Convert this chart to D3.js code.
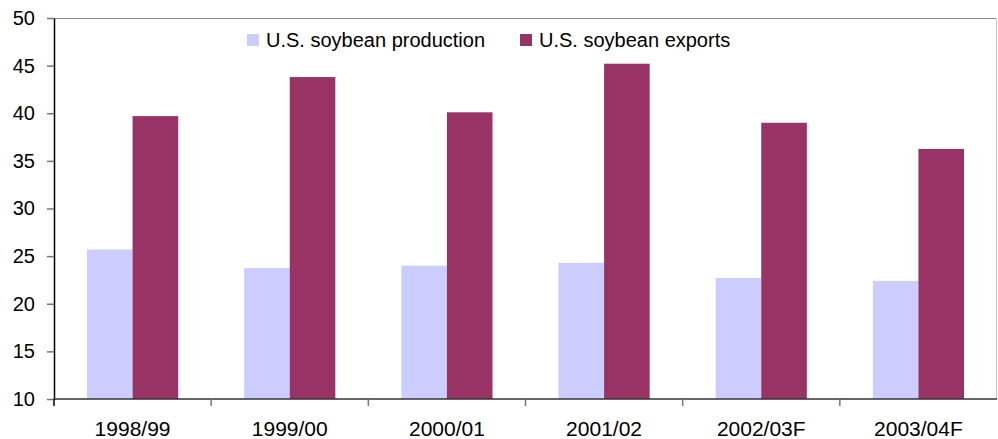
<!DOCTYPE html>
<html>
<head>
<meta charset="utf-8">
<script src="https://cdn.jsdelivr.net/npm/d3@7"></script>
<style>
  body { margin: 0; background: #fff; }
  text { font-family: "Liberation Sans", Arial, sans-serif; fill: #000; }
</style>
</head>
<body>
<svg id="chart" width="998" height="439"></svg>
<script>
// soybean production vs exports, by marketing year
var years = ["1998/99", "1999/00", "2000/01", "2001/02", "2002/03F", "2003/04F"];
var production = [25.7, 23.75, 24.0, 24.3, 22.7, 22.4];
var exports = [39.7, 43.8, 40.1, 45.2, 39.0, 36.25];
var seriesNames = ["U.S. soybean production", "U.S. soybean exports"];
var yTicks = [10, 15, 20, 25, 30, 35, 40, 45, 50];

var svg = d3.select("#chart");
var margin = {top: 18, right: 1, bottom: 40, left: 54},
    width = +svg.attr("width") - margin.left - margin.right,
    height = +svg.attr("height") - margin.top - margin.bottom,
    g = svg.append("g").attr("transform", "translate(" + margin.left + "," + margin.top + ")");

var colors = ["#ccccff", "#993366"];

var x = d3.scaleBand()
    .domain(years)
    .range([0, width])
    .paddingInner(0)
    .paddingOuter(0);

var x1 = d3.scaleBand()
    .domain([0, 1])
    .range([33, x.bandwidth() - 33]);

var y = d3.scaleLinear()
    .domain([10, 50])
    .range([height, 0]);

// plot border (top and right)
g.append("line").attr("x1", 0).attr("x2", width).attr("y1", 0.5).attr("y2", 0.5)
    .attr("stroke", "#8c8c8c");
g.append("line").attr("x1", width - 0.5).attr("x2", width - 0.5).attr("y1", 0).attr("y2", height)
    .attr("stroke", "#c8c8c8");

var data = years.map(function(d, i) { return {year: d, values: [production[i], exports[i]]}; });

var groups = g.selectAll(".grp")
  .data(data)
  .enter().append("g")
    .attr("transform", function(d) { return "translate(" + x(d.year) + ",0)"; });

groups.selectAll("rect")
  .data(function(d) { return d.values; })
  .enter().append("rect")
    .attr("x", function(d, i) { return x1(i); })
    .attr("width", x1.bandwidth())
    .attr("y", function(d) { return y(d); })
    .attr("height", function(d) { return height - y(d); })
    .attr("fill", function(d, i) { return colors[i]; });

// y axis
var yAxis = g.append("g")
    .call(d3.axisLeft(y).tickValues(yTicks).tickSize(7).tickPadding(12).tickSizeOuter(0));
yAxis.select(".domain").attr("stroke", "#000").attr("stroke-width", 1.5);
yAxis.selectAll(".tick line").attr("stroke", "#777").attr("stroke-width", 1.5);
yAxis.selectAll(".tick text").attr("font-size", 20).attr("fill", "#000")
    .attr("font-family", "Liberation Sans, Arial, sans-serif");

// x axis: ticks on category boundaries
var xAxis = g.append("g")
    .attr("transform", "translate(0," + height + ")");
xAxis.append("line")
    .attr("x1", 0).attr("x2", width)
    .attr("stroke", "#333").attr("stroke-width", 1.5);
xAxis.selectAll(".bnd")
  .data(years)
  .enter().append("line")
    .attr("x1", function(d) { return x(d); })
    .attr("x2", function(d) { return x(d); })
    .attr("y1", 0).attr("y2", 7)
    .attr("stroke", function(d, i) { return i === 0 ? "#000" : "#777"; })
    .attr("stroke-width", 1.5);
xAxis.selectAll(".lbl")
  .data(years)
  .enter().append("text")
    .attr("x", function(d) { return x(d) + x.bandwidth() / 2; })
    .attr("y", 37)
    .attr("text-anchor", "middle")
    .attr("font-size", 21)
    .text(function(d) { return d; });

// legend
var legendX = [247, 520];
var legend = svg.selectAll(".legend")
  .data(seriesNames)
  .enter().append("g")
    .attr("transform", function(d, i) { return "translate(" + legendX[i] + ",34)"; });
legend.append("rect")
    .attr("width", 12).attr("height", 12)
    .attr("fill", function(d, i) { return colors[i]; });
legend.append("text")
    .attr("x", 19).attr("y", 13)
    .attr("font-size", 20)
    .text(function(d) { return d; });
</script>
</body>
</html>
